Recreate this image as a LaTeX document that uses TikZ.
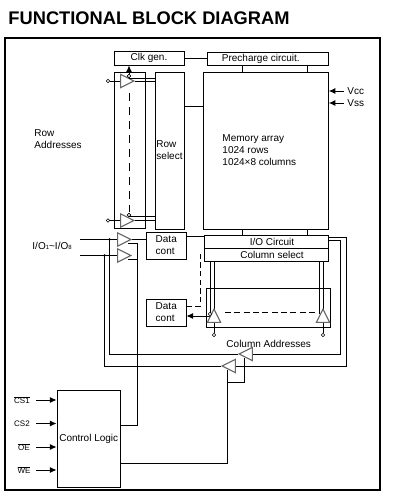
\documentclass[tikz,border=0pt]{standalone}
\usepackage{fontspec}
\setmainfont{Liberation Sans}
\usepackage{amsmath}
\usetikzlibrary{positioning,arrows.meta,calc,shapes.geometric}

\begin{document}
\begin{tikzpicture}[
  x=0.75pt, y=-0.75pt,
  >={Latex[length=5pt,width=4.5pt]},
  font=\fontsize{7.5}{9}\selectfont,
  line width=0.7pt,
  block/.style={draw, inner sep=0pt, align=left},
  bufr/.style={draw=black!60, fill=white, line width=0.8pt, isosceles triangle, isosceles triangle stretches, isosceles triangle apex angle=60, minimum width=10pt, minimum height=10pt, inner sep=0pt, anchor=apex},
  port/.style={draw, fill=white, circle, inner sep=0pt, minimum size=2.6pt, line width=0.5pt},
  label/.style={inner sep=0pt, align=left, anchor=west},
  pin/.style={inner sep=0pt, font=\fontsize{6}{7}\selectfont}
]
\useasboundingbox (0,0) rectangle (403,503);

\node[inner sep=0pt, anchor=west, font=\fontsize{13.7}{16}\selectfont\bfseries] (title) at (8,18.5) {FUNCTIONAL BLOCK DIAGRAM};
\node[draw, line width=1.5pt, minimum width=281.25pt, minimum height=339pt, inner sep=0pt] (frame) at (192.5,264) {};

\node[block, minimum width=52.5pt, minimum height=10.5pt] (clk) at (149,58) {Clk gen.};
\node[block, minimum width=90.75pt, minimum height=9.75pt] (pre) at (267.5,58.5) {Precharge circuit.\hspace*{10pt}};
\node[block, minimum width=93.4pt, minimum height=117.75pt] (mem) at (266,150.5) {};
\node[block, minimum width=21.75pt, minimum height=117.75pt] (rowsel) at (169.5,150.5) {Row\\select};
\node[block, minimum width=23.6pt, minimum height=117pt] (rowbox) at (129.75,150) {};
\node[block, minimum width=93pt, minimum height=9.75pt] (ioc) at (266,241.5) {\hspace*{9pt}I/O Circuit};
\node[block, minimum width=93pt, minimum height=9.9pt] (colsel) at (266,254.75) {\hspace*{9pt}Column select};
\node[block, minimum width=29.6pt, minimum height=20.25pt] (data1) at (166.25,245.5) {Data\\cont};
\node[block, minimum width=29.6pt, minimum height=20.25pt] (data2) at (166.25,312.5) {Data\\cont};
\node[block, minimum width=93pt, minimum height=29.25pt] (colbox) at (268,307.5) {};
\node[block, minimum width=47.6pt, minimum height=72.75pt] (ctrl) at (88.75,438.5) {Control Logic};

\node[label] (memtxt) at (222,150) {Memory array\\1024 rows\\1024×8 columns};
\node[label] (rowaddr) at (34,139.5) {Row\\Addresses};
\node[label] (iotxt) at (32,246) {I/O{\fontsize{4.5}{5}\selectfont 1}\textasciitilde I/O{\fontsize{4.5}{5}\selectfont 8}};
\node[label] (coladdr) at (226,344) {Column Addresses};
\node[label] (vcc) at (347,91) {Vcc};
\node[label] (vss) at (347,103) {Vss};
\node[pin] (cs1) at (22,400) {$\overline{\mbox{CS1}}$};
\node[pin] (cs2) at (22,423.5) {CS2};
\node[pin] (oe) at (24,447) {$\overline{\mbox{OE}}$};
\node[pin] (we) at (24,470) {$\overline{\mbox{WE}}$};

\coordinate (linkl) at (242,0);
\coordinate (linkr) at (307,0);
\coordinate (rowt) at (129,78);
\coordinate (rowb) at (129,216);
\coordinate (ioa) at (109.5,239.5);
\coordinate (iob) at (104.5,255.5);
\coordinate (ctlup) at (137.5,0);
\coordinate (cola) at (340,240.5);
\coordinate (colb) at (346,237);

\draw (clk.east) -- (clk.east -| pre.west);
\draw (pre.south -| linkl) -- (mem.north -| linkl);
\draw (pre.south -| linkr) -- (mem.north -| linkr);
\draw (mem.south -| linkl) -- (ioc.north -| linkl);
\draw (mem.south -| linkr) -- (ioc.north -| linkr);
\draw (rowsel.east |- 0,106) -- (mem.west |- 0,106);

\node[port] (rint) at (108,81) {};
\node[port] (rinb) at (108,220.5) {};
\node[port] (rent) at (129,76) {};
\node[port] (renb) at (129,215) {};
\node[bufr] (rbuft) at (135,81) {};
\node[bufr] (rbufb) at (135,220.5) {};
\node[port] at (rent) {};
\node[port] at (renb) {};
\draw (rint) -- (rbuft.lower side);
\draw (rinb) -- (rbufb.lower side);
\draw (rbuft.apex) -- (rbuft.apex -| rowsel.west);
\draw (rbufb.apex) -- (rbufb.apex -| rowsel.west);
\draw (rent |- rowt) -- (rowt -| rowsel.west);
\draw (renb |- rowb) -- (rowb -| rowsel.west);
\draw[->] (rent) -- (rent |- clk.south);
\draw[dashed, dash pattern=on 6pt off 4.5pt] ($(rent)+(0,17)$) -- ($(renb)+(0,-3)$);

\draw (80,239.5) coordinate (ioin) -- (ioa) -- (119,239.5);
\draw (80,255.5) -- (iob) -- (119,255.5);
\draw (132,239.5) -- (data1.west |- 0,239.5);
\draw (ioa) |- (238,354);
\draw (iob) |- (221,366);
\fill (ioa) circle (1pt);
\fill (iob) circle (1pt);
\draw (ctrl.east |- 0,425) -| (ctlup |- 0,243) -- (128,243);
\draw (ctlup |- 0,259) -- (128,259);
\node[bufr] (iobt) at (132,239.5) {};
\node[bufr] (iobb) at (132,255.5) {};

\draw (data1.east |- 0,236) -- (ioc.west |- 0,236);
\draw[dashed, dash pattern=on 4pt off 2.5pt] (data2.east |- 0,306) -| (200,254) -- (colsel.west |- 0,254);
\draw[<-] (data2.east |- 0,316) -- (210,316);
\draw (210,261.5) -- (210,314);
\draw (214.5,261.5) -- (214.5,312);
\draw (319.3,261.5) -- (319.3,314);
\draw (323,261.5) -- (323,312);
\draw[dashed, dash pattern=on 4.5pt off 2.5pt] (225,312) -- (318,312);

\node[bufr, shape border rotate=90] (cbufl) at (214,308) {};
\node[bufr, shape border rotate=90] (cbufr) at (323,308) {};
\node[port] (entl) at (210,314) {};
\node[port] (cinl) at (214,335) {};
\node[port] (cinr) at (323,335) {};
\draw (cbufl.lower side) -- (cinl);
\draw (cbufr.lower side) -- (cinr);

\draw (ioc.east |- cola) -| (cola |- 0,354) -- (250,354);
\draw (ioc.east |- colb) -| (colb |- 0,366) -- (234,366);
\draw (244,358) |- (227,382);
\draw (227,370) -- (227,463) -- (ctrl.east |- 0,463);
\node[bufr, shape border rotate=180] (abufa) at (238,354) {};
\node[bufr, shape border rotate=180] (abufb) at (221,366) {};

\draw[->] (36,400) -- (ctrl.west |- 0,400);
\draw[->] (36,423.5) -- (ctrl.west |- 0,423.5);
\draw[->] (36,447) -- (ctrl.west |- 0,447);
\draw[->] (36,470) -- (ctrl.west |- 0,470);
\draw[->] (vcc.west |- 0,91) ++(-3,0) -- (mem.east |- 0,91);
\draw[->] (vss.west |- 0,103) ++(-3,0) -- (mem.east |- 0,103);

\end{tikzpicture}
\end{document}
